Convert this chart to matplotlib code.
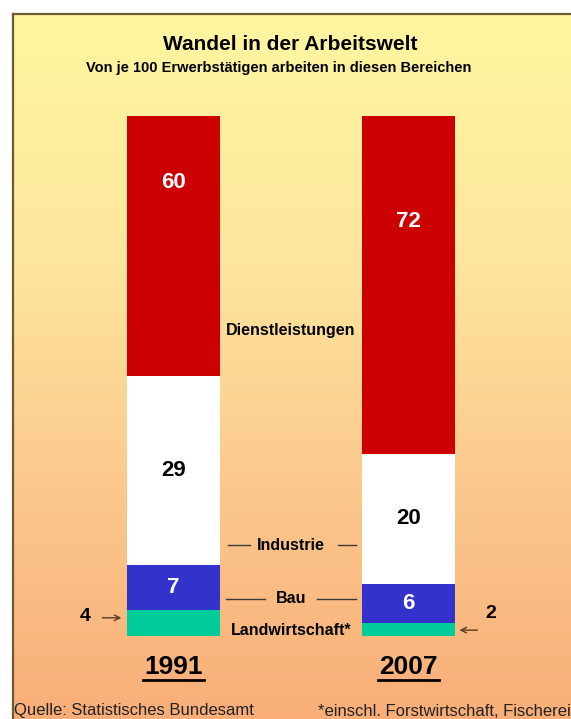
import numpy as np
import matplotlib.pyplot as plt
from matplotlib.colors import LinearSegmentedColormap

plt.rcParams['font.family'] = ['Liberation Sans', 'DejaVu Sans']

# data
jahre = ["1991", "2007"]
bereiche = ["Landwirtschaft*", "Bau", "Industrie", "Dienstleistungen"]
werte = {
    "Landwirtschaft*": [4, 2],
    "Bau": [7, 6],
    "Industrie": [29, 20],
    "Dienstleistungen": [60, 72],
}
farben = {
    "Landwirtschaft*": "#00CC99",
    "Bau": "#3333CC",
    "Industrie": "#FFFFFF",
    "Dienstleistungen": "#CC0000",
}
label_farbe = {
    "Landwirtschaft*": None,
    "Bau": "white",
    "Industrie": "black",
    "Dienstleistungen": "white",
}

W, H = 571, 719
fig = plt.figure(figsize=(W / 100, H / 100), dpi=100)
fig.patch.set_facecolor("white")

# background gradient inside the frame
bg = fig.add_axes([12 / W, 0, 1 - 12 / W, 1 - 14 / H])
cmap = LinearSegmentedColormap.from_list("bg", ["#FFF6A0", "#FDE79E", "#FBC98C", "#F9AE78"])
grad = np.linspace(0, 1, 256).reshape(-1, 1)
bg.imshow(grad, aspect="auto", cmap=cmap, extent=[0, 1, 0, 1])
bg.set_axis_off()

# frame lines
fig.add_artist(plt.Line2D([12.5 / W, 12.5 / W], [0, 1 - 14 / H], color="#6B5A32", lw=1.6))
fig.add_artist(plt.Line2D([12.5 / W, 1], [1 - 14 / H, 1 - 14 / H], color="#6B5A32", lw=1.6))

# main axes: bars from pixel y 116 to 636, 6.5 px per unit
ax = fig.add_axes([0, (H - 636) / H, 1, 520 / H])
ax.set_xlim(-173.5 / 235, (W - 173.5) / 235)
ax.set_ylim(0, 80)
ax.set_axis_off()

x = np.arange(len(jahre))
breite = 93 / 235
unten = np.zeros(len(jahre))
for b in bereiche:
    v = np.array(werte[b], dtype=float)
    ax.bar(x, v, breite, bottom=unten, color=farben[b], edgecolor="none")
    for i in range(len(jahre)):
        if label_farbe[b] is None:
            continue
        top = min(unten[i] + v[i], 80)
        mitte = (unten[i] + top) / 2
        if b == "Dienstleistungen":
            mitte += 9.7
        ax.text(x[i], mitte, f"{werte[b][i]}", ha="center", va="center",
                color=label_farbe[b], fontsize=16, fontweight="bold")
    unten += v

mx = 0.5
lc = "#3A3A3A"
ax.text(0.5, 47, "Dienstleistungen", ha="center", va="center", fontsize=11.5, fontweight="bold")
ax.text(mx, 14, "Industrie", ha="center", va="center", fontsize=11.5, fontweight="bold")
ax.plot([0.232, 0.326], [14, 14], color=lc, lw=1, clip_on=False)
ax.plot([0.70, 0.777], [14, 14], color=lc, lw=1, clip_on=False)
ax.text(mx, 5.7, "Bau", ha="center", va="center", fontsize=11.5, fontweight="bold")
ax.plot([0.223, 0.389], [5.7, 5.7], color=lc, lw=1, clip_on=False)
ax.plot([0.61, 0.777], [5.7, 5.7], color=lc, lw=1, clip_on=False)
ax.text(mx, 0.9, "Landwirtschaft*", ha="center", va="center", fontsize=11.5, fontweight="bold")

# small values with arrows
ax.annotate("", xy=(-0.21, 2.8), xytext=(-0.315, 2.8),
            arrowprops=dict(arrowstyle="->", color="#5A3A20", lw=1), annotation_clip=False)
ax.text(-0.377, 3.0, f"{werte['Landwirtschaft*'][0]}", ha="center", va="center",
        fontsize=14, fontweight="bold")
ax.annotate("", xy=(1.205, 0.9), xytext=(1.305, 0.9),
            arrowprops=dict(arrowstyle="->", color="#5A3A20", lw=1), annotation_clip=False)
ax.text(1.35, 3.5, f"{werte['Landwirtschaft*'][1]}", ha="center", va="center",
        fontsize=14, fontweight="bold")

# year labels, underlined
for i, j in enumerate(jahre):
    ax.text(x[i], -4.7, j, ha="center", va="center", fontsize=19, fontweight="bold")
    ax.plot([x[i] - 0.13, x[i] + 0.13], [-6.8, -6.8], color="black", lw=2, clip_on=False)

fig.text(290 / W, 1 - 45 / H, "Wandel in der Arbeitswelt", ha="center", va="center",
         fontsize=15, fontweight="bold")
fig.text(279 / W, 1 - 68 / H, "Von je 100 Erwerbstätigen arbeiten in diesen Bereichen",
         ha="center", va="center", fontsize=10.5, fontweight="bold")
fig.text(14 / W, 1 - 711 / H, "Quelle: Statistisches Bundesamt", ha="left", va="center",
         fontsize=12, color="#222222")
fig.text(318 / W, 1 - 711 / H, "*einschl. Forstwirtschaft, Fischerei", ha="left", va="center",
         fontsize=12, color="#222222")

fig.savefig("out.png", dpi=100)
